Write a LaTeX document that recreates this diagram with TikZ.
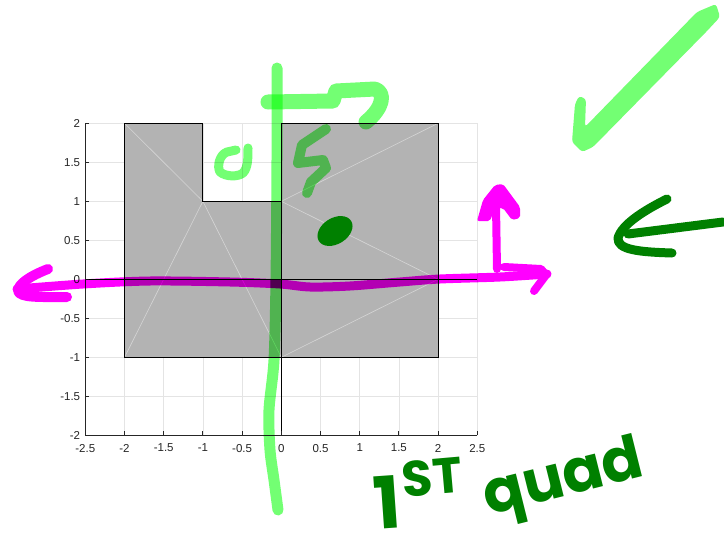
\documentclass[tikz,border=0pt]{standalone}
\usepackage{fontspec}
\setmainfont{Liberation Sans}
\newfontfamily\handfont{Poppins}
\definecolor{hlgreen}{RGB}{115,255,115}
\definecolor{hlmag}{RGB}{255,0,255}
\definecolor{pengreen}{RGB}{0,128,0}
\definecolor{plotgray}{RGB}{179,179,179}
\definecolor{gridc}{RGB}{228,228,228}
\definecolor{axc}{RGB}{38,38,38}
\tikzset{
  gridline/.style={gridc, line width=0.8pt},
  axisline/.style={axc, line width=0.9pt},
  edgeline/.style={black, line width=1pt},
  triline/.style={white, opacity=0.45, line width=0.6pt},
  ticklabel/.style={text=axc, inner sep=0pt, font=\fontsize{11.5}{12}\selectfont},
  hlmagpen/.style={hlmag, line width=9pt, line cap=round, line join=round},
  hlgreenpen/.style={hlgreen, line width=11pt, line cap=round, line join=round},
  darkpen/.style={pengreen, line width=9pt, line cap=round, line join=round},
  handtext/.style={text=pengreen, inner sep=0pt}
}
\begin{document}
\begin{tikzpicture}[x=1pt, y=-1pt]
\useasboundingbox (0,0) rectangle (724,541);
\fill[white] (0,0) rectangle (724,541);
% ---------- plot ----------
\begin{scope}[shift={(281.3,279.3)}, x=78.4pt, y=78pt]
  \foreach \x in {-2.5,-2,-1.5,-1,-0.5,0,0.5,1,1.5,2,2.5}
    \draw[gridline] (\x,-2) -- (\x,2);
  \foreach \y in {-2,-1.5,-1,-0.5,0,0.5,1,1.5,2}
    \draw[gridline] (-2.5,\y) -- (2.5,\y);
  \fill[plotgray] (-2,-1) -- (2,-1) -- (2,2) -- (0,2) -- (0,1) -- (-1,1) -- (-1,2) -- (-2,2) -- cycle;
  \draw[triline] (-2,2) -- (-1,1) -- (-2,-1);
  \draw[triline] (-1,1) -- (0,-1);
  \draw[triline] (2,2) -- (0,1) -- (2,0) -- (0,-1);
  \draw[edgeline] (-2,-1) -- (2,-1) -- (2,2) -- (0,2) -- (0,1) -- (-1,1) -- (-1,2) -- (-2,2) -- cycle;
  \draw[edgeline] (-2.5,0) -- (2.5,0);
  \draw[edgeline] (0,2) -- (0,-2);
  \draw[axisline] (-2.5,2) -- (-2.5,-2) -- (2.5,-2);
  \foreach \x in {-2.5,-2,-1.5,-1,-0.5,0,0.5,1,1.5,2,2.5} {
    \draw[axisline] (\x,-2) -- ++(0,4pt);
    \node[ticklabel, anchor=north] at ([yshift=-8.5pt]\x,-2) {\x};
  }
  \foreach \y in {-2,-1.5,-1,-0.5,0,0.5,1,1.5,2} {
    \draw[axisline] (-2.5,\y) -- ++(4pt,0);
    \node[ticklabel, anchor=east] at ([xshift=-5pt]-2.5,\y) {\y};
  }
\end{scope}
% ---------- highlighter annotations ----------
\begin{scope}[blend mode=multiply]
  % magenta horizontal line with arrow ends
  \draw[hlmagpen] plot[smooth] coordinates {(17,289) (83,284) (150,281) (230,282) (280,284) (310,287) (350,286) (400,282) (440,279) (500,277) (547,274)};
  \draw[hlmagpen, line width=10pt] (48,269) .. controls (30,276) and (18,284) .. (18,291) .. controls (20,298) and (40,297) .. (67,297);
  \draw[hlmagpen, line width=8pt] (497,269) -- (496,205);
  \fill[hlmag, rounded corners=2pt] (477,221) -- (483,200) -- (495,185) -- (503,184) -- (520,207) -- (520,218) -- (512,220) -- (503,208) -- (495,208) -- (490,221) -- cycle;
  \draw[hlmagpen, line width=8pt] (504,267) -- (541,269) -- (546,275) -- (534,291);
  % light green vertical line and top hook
  \draw[hlgreenpen] plot[smooth] coordinates {(277,68) (277,160) (276,280) (274,360) (269,410) (270,450) (274,480) (278,510)};
  \draw[hlgreenpen, line width=15pt] (268,102) -- (333,101) -- (336,91) -- (375,89) .. controls (386,93) and (383,108) .. (366,122);
  % U and S scribbles
  \draw[hlgreenpen, line width=9pt] (236,150) -- (227,152) .. controls (219,155) and (217,167) .. (220,172) .. controls (226,177) and (238,177) .. (243,173) .. controls (248,168) and (248,158) .. (248,148);
  \draw[hlgreenpen, line width=10pt] (326,129) -- (302,145) -- (298,163) -- (323,160) -- (326,168) -- (311,182) -- (307,193);
  % check mark
  \fill[hlgreen, rounded corners=3pt] (575,104) -- (579,96) -- (586,99) -- (585,127) -- (697,12) -- (716,4) -- (720,17) -- (707,31) -- (593,147) -- (582,152) -- (572,142) -- cycle;
\end{scope}
% ---------- dark green pen ----------
\fill[pengreen, rotate around={32:(335,231)}] (335,231) ellipse (19 and 13);
\draw[darkpen] (723,222) -- (628,234);
\draw[darkpen] (667,199) .. controls (645,210) and (622,224) .. (618,238) .. controls (617,250) and (640,252) .. (672,253);
\node[handtext, font=\handfont\bfseries\fontsize{72}{72}\selectfont, rotate=4] (one) at (387,502) {1};
\node[handtext, font=\handfont\bfseries\fontsize{50}{50}\selectfont, rotate=5] (st) at (432,477) {ST};
\node[handtext, font=\handfont\bfseries\fontsize{60}{60}\selectfont, rotate=14] (quad) at (564,482) {quad};
\end{tikzpicture}
\end{document}
